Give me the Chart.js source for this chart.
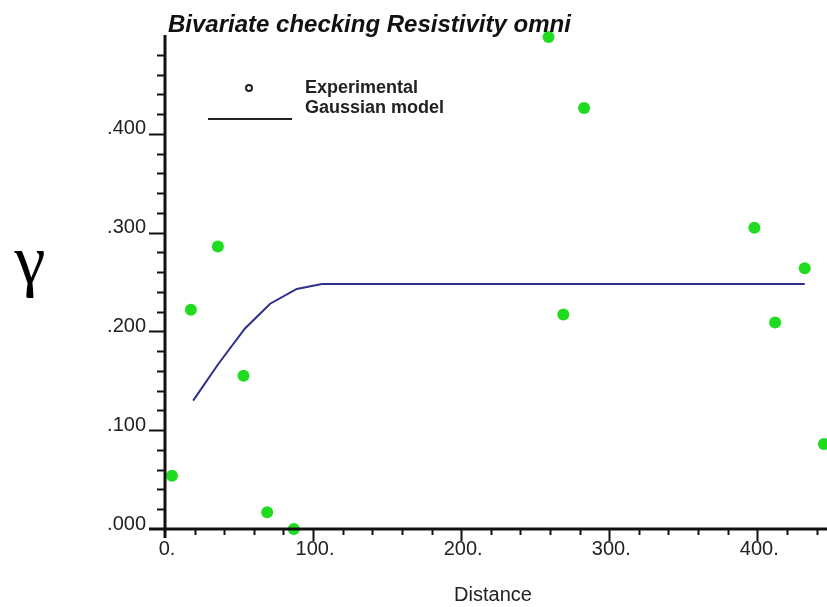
<!DOCTYPE html>
<html>
<head>
<meta charset="utf-8">
<script src="https://cdn.jsdelivr.net/npm/chart.js@4/dist/chart.umd.min.js"></script>
<style>
  html, body { margin: 0; padding: 0; background: #fff; }
  #wrap { width: 827px; height: 607px; }
</style>
</head>
<body>
<div id="wrap"><canvas id="varioChart" width="827" height="607"></canvas></div>
<script>
// experimental variogram points (distance, gamma)
var expDistance = [4.7, 17.5, 35.7, 53, 69, 87, 259, 269, 283, 398, 412, 432, 445];
var expGamma = [0.054, 0.222, 0.286, 0.155, 0.017, 0.0, 0.498, 0.217, 0.426, 0.305, 0.209, 0.264, 0.086];

// fitted gaussian model
var modelDistance = [19, 36, 54, 71, 89, 106, 432];
var modelGamma = [0.130, 0.167, 0.203, 0.228, 0.243, 0.248, 0.248];

var xTicks = [0, 100, 200, 300, 400];
var yTicks = [0, 0.1, 0.2, 0.3, 0.4];

var FONT = "'Liberation Sans', Arial, Helvetica, sans-serif";

function toPoints(xs, ys) {
    return xs.map(function (x, i) { return { x: x, y: ys[i] }; });
}

// axis lines, tick marks, title, legend and the gamma symbol
var decorPlugin = {
    id: 'decor',
    afterDraw: function (chart) {
        var ctx = chart.ctx;
        var xs = chart.scales.x, ys = chart.scales.y;
        var x0 = xs.getPixelForValue(0);
        var y0 = ys.getPixelForValue(0);
        ctx.save();
        ctx.strokeStyle = '#111';

        // y ticks
        ctx.lineWidth = 2;
        for (var i = 1; i < 25; i++) {
            var py = Math.round(ys.getPixelForValue(i * 0.02)) + 0.5;
            var major = i % 5 === 0;
            ctx.beginPath();
            ctx.moveTo(major ? x0 - 16 : x0 - 8, py);
            ctx.lineTo(x0, py);
            ctx.stroke();
        }
        // x ticks
        for (var j = 1; j <= 22; j++) {
            var px = Math.round(xs.getPixelForValue(j * 20)) + 0.5;
            var maj = j % 5 === 0;
            ctx.beginPath();
            ctx.moveTo(px, y0);
            ctx.lineTo(px, maj ? y0 + 12 : y0 + 6);
            ctx.stroke();
        }

        // axis lines
        ctx.lineWidth = 3;
        ctx.beginPath();
        ctx.moveTo(x0, ys.getPixelForValue(0.5));
        ctx.lineTo(x0, y0 + 9);
        ctx.moveTo(x0 - 16, y0);
        ctx.lineTo(chart.width, y0);
        ctx.stroke();

        // title
        ctx.fillStyle = '#111';
        ctx.font = 'italic bold 24px ' + FONT;
        ctx.textAlign = 'left';
        ctx.textBaseline = 'alphabetic';
        ctx.fillText('Bivariate checking Resistivity omni', 168, 32);

        // legend
        ctx.font = 'bold 18px ' + FONT;
        ctx.fillStyle = '#222';
        ctx.fillText('Experimental', 305, 93);
        ctx.fillText('Gaussian model', 305, 113);
        ctx.lineWidth = 2;
        ctx.strokeStyle = '#222';
        ctx.beginPath();
        ctx.arc(249, 88, 3, 0, Math.PI * 2);
        ctx.stroke();
        ctx.beginPath();
        ctx.moveTo(208, 119);
        ctx.lineTo(292, 119);
        ctx.stroke();

        // gamma
        ctx.font = "70px 'Liberation Serif', 'Times New Roman', serif";
        ctx.fillStyle = '#000';
        ctx.textAlign = 'center';
        ctx.fillText('\u03b3', 30, 283);
        ctx.restore();
    }
};

var ctx = document.getElementById('varioChart').getContext('2d');
var varioChart = new Chart(ctx, {
    type: 'scatter',
    data: {
        datasets: [
            {
                label: 'Experimental',
                data: toPoints(expDistance, expGamma),
                backgroundColor: '#1fdc1f',
                borderWidth: 0,
                pointRadius: 6,
                pointHoverRadius: 6,
                clip: false
            },
            {
                type: 'line',
                label: 'Gaussian model',
                data: toPoints(modelDistance, modelGamma),
                borderColor: '#2e2e8c',
                borderWidth: 2,
                pointRadius: 0,
                tension: 0,
                fill: false
            }
        ]
    },
    options: {
        responsive: false,
        animation: false,
        layout: { padding: { top: 35, left: 0, right: 0, bottom: 0 } },
        plugins: {
            legend: { display: false },
            tooltip: { enabled: false }
        },
        scales: {
            x: {
                type: 'linear',
                min: 0,
                max: 443,
                afterFit: function (s) { s.height = 78; },
                afterBuildTicks: function (s) { s.ticks = xTicks.map(function (v) { return { value: v }; }); },
                grid: { display: false, drawTicks: false },
                border: { display: false },
                ticks: {
                    padding: 8,
                    labelOffset: 2,
                    color: '#222',
                    font: { family: FONT, size: 20 },
                    callback: function (v) { return v + '.'; }
                },
                title: {
                    display: true,
                    text: 'Distance',
                    color: '#222',
                    font: { family: FONT, size: 20 },
                    padding: { top: 0, bottom: 0 }
                }
            },
            y: {
                type: 'linear',
                min: 0,
                max: 0.5,
                afterFit: function (s) { s.width = 165; },
                afterBuildTicks: function (s) { s.ticks = yTicks.map(function (v) { return { value: v }; }); },
                grid: { display: false, drawTicks: false },
                border: { display: false },
                ticks: {
                    padding: 19,
                    labelOffset: -5,
                    color: '#222',
                    font: { family: FONT, size: 20 },
                    callback: function (v) { return v.toFixed(3).replace(/^0/, ''); }
                }
            }
        }
    },
    plugins: [decorPlugin]
});
</script>
</body>
</html>
